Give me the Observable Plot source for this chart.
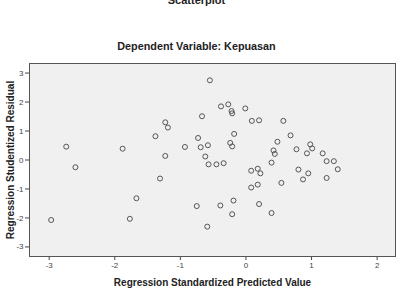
<!DOCTYPE html>
<html>
<head>
<meta charset="utf-8">
<script src="https://cdn.jsdelivr.net/npm/d3@7"></script>
<script src="https://cdn.jsdelivr.net/npm/@observablehq/plot@0.6"></script>
<style>
  html, body { margin: 0; padding: 0; background: #fff; }
  #chart svg { display: block; font-family: "Liberation Sans", Arial, sans-serif; }
</style>
</head>
<body>
<div id="chart"></div>
<script>
const titleText = "Scatterplot";
const subtitleText = "Dependent Variable: Kepuasan";
const xLabel = "Regression Standardized Predicted Value";
const yLabel = "Regression Studentized Residual";

const predicted = [
  -2.97, -2.74, -2.60, -1.88, -1.77, -1.67, -1.38, -1.31, -1.23, -1.19,
  -1.23, -0.93, -0.75, -0.73, -0.67, -0.69, -0.58, -0.55, -0.62, -0.57,
  -0.59, -0.45, -0.34, -0.38, -0.27, -0.22, -0.21, -0.01, 0.09, 0.20,
  -0.18, -0.24, -0.21, -0.39, -0.19, -0.21, 0.08, 0.18, 0.22, 0.08,
  0.18, 0.20, 0.39, 0.57, 0.68, 0.48, 0.42, 0.44, 0.39, 0.54,
  0.77, 0.93, 0.98, 1.01, 1.17, 1.23, 1.34, 1.40, 0.80, 0.95,
  0.87, 1.23
];
const residual = [
  -2.07, 0.46, -0.25, 0.39, -2.03, -1.32, 0.82, -0.64, 1.30, 1.12,
  0.14, 0.45, -1.59, 0.76, 1.51, 0.44, 0.51, 2.75, 0.12, -0.15,
  -2.30, -0.15, -0.11, 1.85, 1.92, 1.69, 1.61, 1.78, 1.35, 1.37,
  0.90, 0.59, 0.47, -1.57, -1.40, -1.87, -0.37, -0.30, -0.46, -0.95,
  -0.85, -1.52, -1.83, 1.35, 0.85, 0.63, 0.33, 0.21, -0.09, -0.79,
  0.37, 0.23, 0.54, 0.40, 0.23, -0.04, -0.04, -0.32, -0.33, -0.46,
  -0.67, -0.62
];
const xTicks = [-3, -2, -1, 0, 1, 2];
const yTicks = [-3, -2, -1, 0, 1, 2, 3];

const data = predicted.map((x, i) => ({x, y: residual[i]}));

const chart = Plot.plot({
  width: 409,
  height: 288,
  marginTop: 63,
  marginBottom: 32,
  marginLeft: 29,
  marginRight: 14,
  style: {fontFamily: "'Liberation Sans', Arial, sans-serif", background: "#fff"},
  x: {domain: [-3.3, 2.28]},
  y: {domain: [-3.33, 3.33]},
  marks: [
    Plot.frame({fill: "#f0f0f0", stroke: "none"}),
    Plot.axisX({ticks: xTicks, tickSize: 4, tickPadding: 2, fontSize: 8, color: "#444", label: null, tickFormat: d => String(d)}),
    Plot.axisY({ticks: yTicks, tickSize: 4, tickPadding: 2, fontSize: 8, color: "#444", label: null, tickFormat: d => String(d)}),
    Plot.dot(data, {x: "x", y: "y", r: 2.5, stroke: "#555", strokeWidth: 1, fill: "none"}),
    Plot.frame({stroke: "#555", strokeWidth: 1}),
    Plot.text([xLabel], {frameAnchor: "bottom", dy: 26, lineAnchor: "middle", textAnchor: "middle", text: d => d, fontSize: 10, fontWeight: "bold", fill: "#222"}),
    Plot.text([yLabel], {frameAnchor: "left", dx: -19, rotate: -90, lineAnchor: "middle", textAnchor: "middle", text: d => d, fontSize: 10, fontWeight: "bold", fill: "#222"}),
    Plot.text([subtitleText], {frameAnchor: "top", dx: -16, dy: -17, lineAnchor: "middle", textAnchor: "middle", text: d => d, fontSize: 10.8, fontWeight: "bold", fill: "#222"}),
    Plot.text([titleText], {frameAnchor: "top", dx: -16, dy: -63, lineAnchor: "middle", textAnchor: "middle", text: d => d, fontSize: 11, fontWeight: "bold", fill: "#222"})
  ]
});
document.getElementById("chart").appendChild(chart);
</script>
</body>
</html>
